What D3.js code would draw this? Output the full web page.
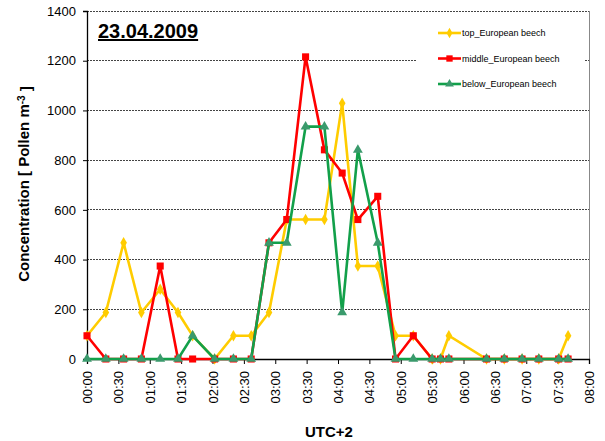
<!DOCTYPE html>
<html>
<head>
<meta charset="utf-8">
<script src="https://cdn.jsdelivr.net/npm/d3@7/dist/d3.min.js"></script>
<style>
  body { margin: 0; background: #fff; }
  svg { display: block; font-family: "Liberation Sans", Arial, sans-serif; }
</style>
</head>
<body>
<div id="plot"></div>
<script>
// sampling times, minutes after 00:00 (UTC+2)
var times = [0, 18, 35, 52, 70, 87, 101, 122, 140, 157, 174, 191, 209, 227, 244, 259,
             278, 295, 312, 330, 338, 346, 382, 399, 416, 432, 451, 460];

var topBeech = [93.5, 187, 467.5, 187, 280.5, 187, 93.5, 0, 93.5, 93.5, 187, 561, 561, 561,
                1028.5, 374, 374, 93.5, 93.5, 0, 0, 93.5, 0, 0, 0, 0, 0, 93.5];
var middleBeech = [93.5, 0, 0, 0, 374, 0, 0, 0, 0, 0, 467.5, 561, 1215.5, 841.5,
                   748, 561, 654.5, 0, 93.5, 0, 0, 0, 0, 0, 0, 0, 0, 0];
var belowBeech = [0, 0, 0, 0, 0, 0, 93.5, 0, 0, 0, 467.5, 467.5, 935, 935,
                  187, 841.5, 467.5, 0, 0, 0, 0, 0, 0, 0, 0, 0, 0, 0];

var seriesNames = ["top_European beech", "middle_European beech", "below_European beech"];
var yTicks = [0, 200, 400, 600, 800, 1000, 1200, 1400];
var xTicks = [0, 30, 60, 90, 120, 150, 180, 210, 240, 270, 300, 330, 360, 390, 420, 450, 480];

var W = 605, H = 441;
var svg = d3.select("#plot").append("svg")
            .attr("width", W)
            .attr("height", H);

var x = d3.scaleLinear().domain([0, 480]).range([87, 589]);
var y = d3.scaleLinear().domain([0, 1400]).range([359, 11]);

var styles = [
    { line: "#FFCC00", marker: "#FFCC00", symbol: d3.symbolDiamond, size: 38 },
    { line: "#FF0000", marker: "#FF0000", symbol: d3.symbolSquare, size: 50 },
    { line: "#12A04A", marker: "#3A9A6C", symbol: d3.symbolTriangle, size: 42 }
];
var allSeries = [topBeech, middleBeech, belowBeech];

// gridlines
svg.append("g").selectAll("line")
    .data(yTicks.filter(function(d){ return d > 0; }))
    .enter().append("line")
    .attr("x1", x(0)).attr("x2", x(480))
    .attr("y1", function(d){ return y(d); })
    .attr("y2", function(d){ return y(d); })
    .attr("stroke", "#444")
    .attr("stroke-width", 1)
    .attr("stroke-dasharray", "2,1")
    .attr("shape-rendering", "crispEdges");

// right border of plot area
svg.append("line")
    .attr("x1", x(480)).attr("x2", x(480))
    .attr("y1", y(1400)).attr("y2", y(0))
    .attr("stroke", "#888")
    .attr("shape-rendering", "crispEdges");

// legend background hides the grid behind it
svg.append("rect")
    .attr("x", 416).attr("y", 16)
    .attr("width", 169).attr("height", 88)
    .attr("fill", "#fff");

// axes
var yAxis = svg.append("g")
    .attr("transform", "translate(" + x(0) + ",0)")
    .call(d3.axisLeft(y).tickValues(yTicks).tickSize(4).tickPadding(7).tickFormat(d3.format("d")));
yAxis.selectAll("text").style("font-size", "13px").attr("fill", "#000");

var fmt = function(m){ return d3.format("02")(Math.floor(m / 60)) + ":" + d3.format("02")(m % 60); };
var xAxis = svg.append("g")
    .attr("transform", "translate(0," + y(0) + ")")
    .call(d3.axisBottom(x).tickValues(xTicks).tickSize(5).tickFormat(fmt));
xAxis.selectAll("text")
    .attr("y", 0)
    .attr("x", -12)
    .attr("dy", "0.35em")
    .attr("transform", "rotate(-90)")
    .style("text-anchor", "end")
    .style("font-size", "13px")
    .attr("fill", "#000");
svg.selectAll(".domain").attr("stroke", "#000").attr("stroke-width", 1.3);
svg.selectAll(".tick line").attr("stroke", "#000");

// series
var line = d3.line()
    .x(function(d, i){ return x(times[i]); })
    .y(function(d){ return y(d); });

allSeries.forEach(function(data, k){
    var st = styles[k];
    var g = svg.append("g");
    g.append("path")
        .datum(data)
        .attr("d", line)
        .attr("fill", "none")
        .attr("stroke", st.line)
        .attr("stroke-width", 2.6)
        .attr("stroke-linejoin", "miter");
    g.selectAll("path.mk")
        .data(data)
        .enter().append("path")
        .attr("class", "mk")
        .attr("d", d3.symbol().type(st.symbol).size(st.size))
        .attr("transform", function(d, i){ return "translate(" + x(times[i]) + "," + y(d) + ")"; })
        .attr("fill", st.marker);
});

// legend
var legend = svg.append("g");
seriesNames.forEach(function(name, k){
    var st = styles[k], ly = 33 + k * 25.5;
    legend.append("line")
        .attr("x1", 438).attr("x2", 461)
        .attr("y1", ly).attr("y2", ly)
        .attr("stroke", st.line).attr("stroke-width", 2.6);
    legend.append("path")
        .attr("d", d3.symbol().type(st.symbol).size(st.size * 0.8))
        .attr("transform", "translate(449.5," + ly + ")")
        .attr("fill", st.marker);
    legend.append("text")
        .attr("x", 462).attr("y", ly)
        .attr("dy", "0.35em")
        .style("font-size", "9px")
        .text(name);
});

// title
svg.append("text")
    .attr("x", 98).attr("y", 38)
    .style("font-size", "20px")
    .style("font-weight", "bold")
    .style("text-decoration", "underline")
    .text("23.04.2009");

// axis titles
svg.append("text")
    .attr("x", 329).attr("y", 437)
    .attr("text-anchor", "middle")
    .style("font-size", "15px")
    .style("font-weight", "bold")
    .text("UTC+2");

var yt = svg.append("text")
    .attr("transform", "translate(29,184) rotate(-90)")
    .attr("text-anchor", "middle")
    .style("font-size", "15px")
    .style("font-weight", "bold");
yt.append("tspan").text("Concentration [ Pollen m");
yt.append("tspan").attr("dy", "-0.45em").style("font-size", "10px").text("-3");
yt.append("tspan").attr("dy", "0.45em").text(" ]");
</script>
</body>
</html>
